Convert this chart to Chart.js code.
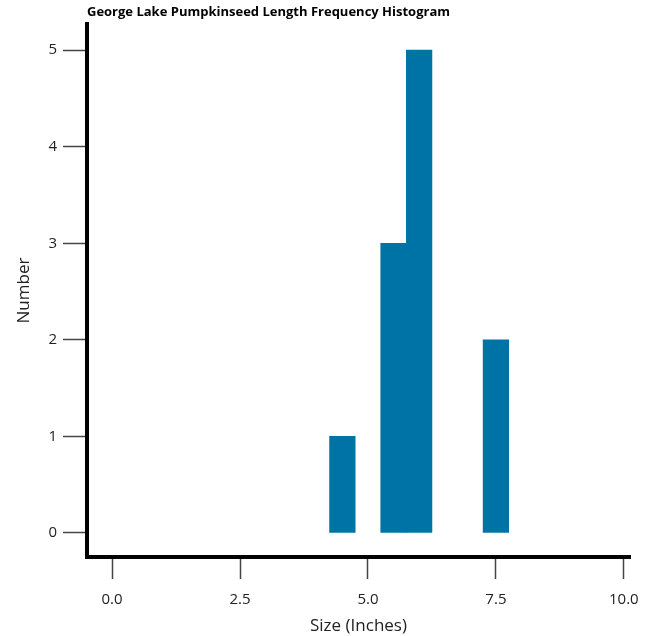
<!DOCTYPE html>
<html>
<head>
<meta charset="utf-8">
<script src="https://cdn.jsdelivr.net/npm/chart.js@4.4.1/dist/chart.umd.min.js"></script>
<style>
  html, body { margin: 0; padding: 0; background: #ffffff; }
  #wrap { width: 657px; height: 636px; }
</style>
</head>
<body>
<div id="wrap"><canvas id="c"></canvas></div>
<script>
const chartTitle = "George Lake Pumpkinseed Length Frequency Histogram";
const xTitle = "Size (Inches)";
const yTitle = "Number";
const binCenters = [4.5, 5.5, 6.0, 7.5];
const binCounts = [1, 3, 5, 2];
const xTickValues = [0, 2.5, 5, 7.5, 10];
const yTickValues = [0, 1, 2, 3, 4, 5];

const FONT = "'Open Sans', sans-serif";
const barColor = "#0073a6";

new Chart(document.getElementById('c'), {
  type: 'bar',
  data: {
    datasets: [{
      data: binCenters.map((x, i) => ({ x: x, y: binCounts[i] })),
      backgroundColor: barColor,
      borderWidth: 0,
      barPercentage: 1.0,
      categoryPercentage: 1.0
    }]
  },
  options: {
    responsive: true,
    maintainAspectRatio: false,
    animation: false,
    layout: { padding: { left: 0, right: 27, top: 0, bottom: 0 } },
    plugins: {
      legend: { display: false },
      tooltip: { enabled: false },
      title: {
        display: true,
        text: chartTitle,
        align: 'start',
        fullSize: false,
        color: '#000',
        font: { family: FONT, size: 13, weight: 'bold' },
        padding: { top: 4.5, bottom: 4 }
      }
    },
    scales: {
      x: {
        type: 'linear',
        min: -0.49,
        max: 10.12,
        offset: false,
        afterBuildTicks: (axis) => { axis.ticks = xTickValues.map(v => ({ value: v })); },
        ticks: {
          color: '#222',
          font: { family: FONT, size: 15 },
          padding: 12,
          callback: (v) => Number(v).toFixed(1)
        },
        grid: {
          display: true,
          offset: false,
          drawOnChartArea: false,
          drawTicks: true,
          tickLength: 22,
          tickColor: '#444',
          tickWidth: 1.5
        },
        border: { display: true, color: '#000', width: 4 },
        title: {
          display: true,
          text: xTitle,
          color: '#222',
          font: { family: FONT, size: 17 },
          padding: { top: -5.2, bottom: -0.2 }
        }
      },
      y: {
        type: 'linear',
        min: -0.25,
        max: 5.27,
        afterBuildTicks: (axis) => { axis.ticks = yTickValues.map(v => ({ value: v })); },
        ticks: {
          color: '#222',
          font: { family: FONT, size: 15 },
          padding: 6
        },
        grid: {
          display: true,
          offset: false,
          drawOnChartArea: false,
          drawTicks: true,
          tickLength: 24,
          tickColor: '#444',
          tickWidth: 1.5
        },
        border: { display: true, color: '#000', width: 4 },
        title: {
          display: true,
          text: yTitle,
          color: '#222',
          font: { family: FONT, size: 17 },
          padding: { top: 14, bottom: 8 }
        }
      }
    }
  }
});
</script>
</body>
</html>
